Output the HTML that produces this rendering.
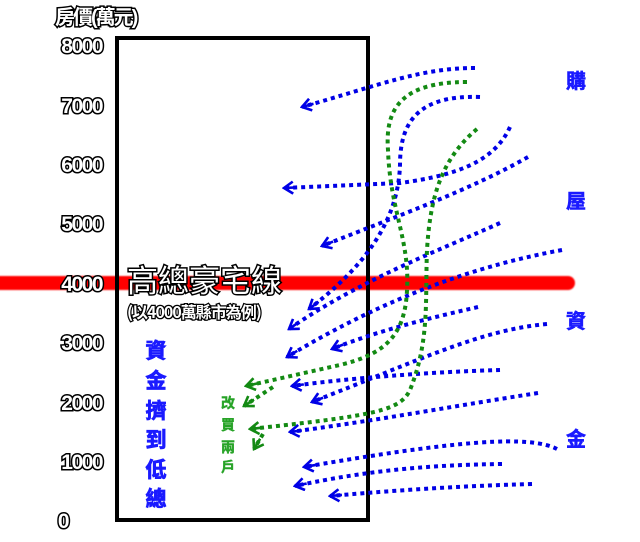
<!DOCTYPE html>
<html><head><meta charset="utf-8"><style>
html,body{margin:0;padding:0;background:#fff;}
svg{display:block;}
.ax{font-family:"Liberation Sans","Noto Sans CJK TC",sans-serif;font-weight:bold;font-size:21px;fill:#fff;stroke:#000;stroke-width:3px;paint-order:stroke;letter-spacing:-1.5px;}
.b{fill:none;stroke:#0000e6;stroke-width:4;stroke-dasharray:4 4;}
.g{fill:none;stroke:#138a13;stroke-width:4;stroke-dasharray:4 4;}
.cj{font-family:"Noto Sans CJK TC","WenQuanYi Zen Hei",sans-serif;font-weight:bold;}
</style></head><body>
<svg width="640" height="542" viewBox="0 0 640 542" xmlns="http://www.w3.org/2000/svg">
<defs>
<filter id="bl" x="-5%" y="-100%" width="110%" height="300%"><feGaussianBlur stdDeviation="0.8"/></filter>
<marker id="ab" viewBox="0 0 14 14" refX="12" refY="7" markerWidth="14" markerHeight="14" markerUnits="userSpaceOnUse" orient="auto"><path d="M3,1 L12,7 L3,13 M0,7 L12,7" fill="none" stroke="#0000e6" stroke-width="2.6" stroke-dasharray="none"/></marker>
<marker id="ag" viewBox="0 0 14 14" refX="12" refY="7" markerWidth="14" markerHeight="14" markerUnits="userSpaceOnUse" orient="auto"><path d="M3,1 L12,7 L3,13 M0,7 L12,7" fill="none" stroke="#138a13" stroke-width="2.6" stroke-dasharray="none"/></marker>
</defs>
<rect x="-10" y="276" width="585" height="14" rx="7" fill="#f00" filter="url(#bl)"/>
<rect x="117" y="38" width="251" height="482" fill="none" stroke="#000" stroke-width="4"/>
<text class="ax" x="55" y="24" style="letter-spacing:-2px;font-size:20px">房價(萬元)</text>
<g class="ax" text-anchor="end">
<text x="102" y="53">8000</text>
<text x="102" y="113">7000</text>
<text x="102" y="172">6000</text>
<text x="102" y="231">5000</text>
<text x="102" y="291">4000</text>
<text x="102" y="350">3000</text>
<text x="102" y="410">2000</text>
<text x="102" y="469">1000</text>
<text x="68" y="528">0</text>
</g>
<text class="cj" x="127" y="292" font-size="31" fill="#fff" stroke="#000" stroke-width="3" paint-order="stroke" style="font-weight:normal">高總豪宅線</text>
<text class="cj" x="127" y="318" font-size="16" fill="#fff" stroke="#000" stroke-width="2.5" paint-order="stroke" letter-spacing="-1">(以4000萬縣市為例)</text>
<g class="cj" font-size="21" fill="#1a1aff" stroke="#1a1aff" stroke-width="0.8" text-anchor="middle">
<text x="156" y="358">資</text><text x="156" y="388">金</text><text x="156" y="418">擠</text>
<text x="156" y="447">到</text><text x="156" y="477">低</text><text x="156" y="506">總</text>
</g>
<g class="cj" font-size="14" fill="#27a327" stroke="#27a327" stroke-width="0.4" text-anchor="middle">
<text x="228" y="408">改</text><text x="228" y="430">買</text><text x="228" y="452">兩</text><text x="228" y="472">戶</text>
</g>
<g class="cj" font-size="20" fill="#1a1aff" stroke="#1a1aff" stroke-width="0.6" text-anchor="middle">
<text x="576" y="88">購</text><text x="576" y="208">屋</text><text x="576" y="328">資</text><text x="576" y="446">金</text>
</g>
<g class="b" marker-end="url(#ab)">
<path d="M475,68 C420,68 380,85 302,107"/>
<path d="M480,97 C420,95 400,120 400,165 C398,225 360,270 309,309"/>
<path d="M510,127 C495,160 460,175 400,183 L284,188"/>
<path d="M528,157 C470,190 400,215 322,246"/>
<path d="M500,223 C440,250 360,280 289,329"/>
<path d="M562,250 C480,265 390,295 287,357"/>
<path d="M478,307 C430,318 380,330 332,349"/>
<path d="M547,324 C480,330 420,360 312,402"/>
<path d="M500,370 C430,372 350,378 292,386"/>
<path d="M538,393 C460,405 380,420 290,432"/>
<path d="M557,449 C530,435 460,440 304,467"/>
<path d="M502,464 C430,465 370,470 295,486"/>
<path d="M532,484 C460,486 400,490 330,496"/>
</g>
<g class="g" marker-end="url(#ag)">
<path d="M467,82 C400,82 385,110 388,150 C390,210 410,240 407,290 C405,340 380,355 340,365 L246,386"/>
<path d="M273,387 L244,406"/>
<path d="M477,129 C440,160 430,200 427,250 C425,300 430,340 410,390 C400,410 380,415 250,429"/>
<path d="M263,434 L254,449"/>
</g>
</svg>
</body></html>
